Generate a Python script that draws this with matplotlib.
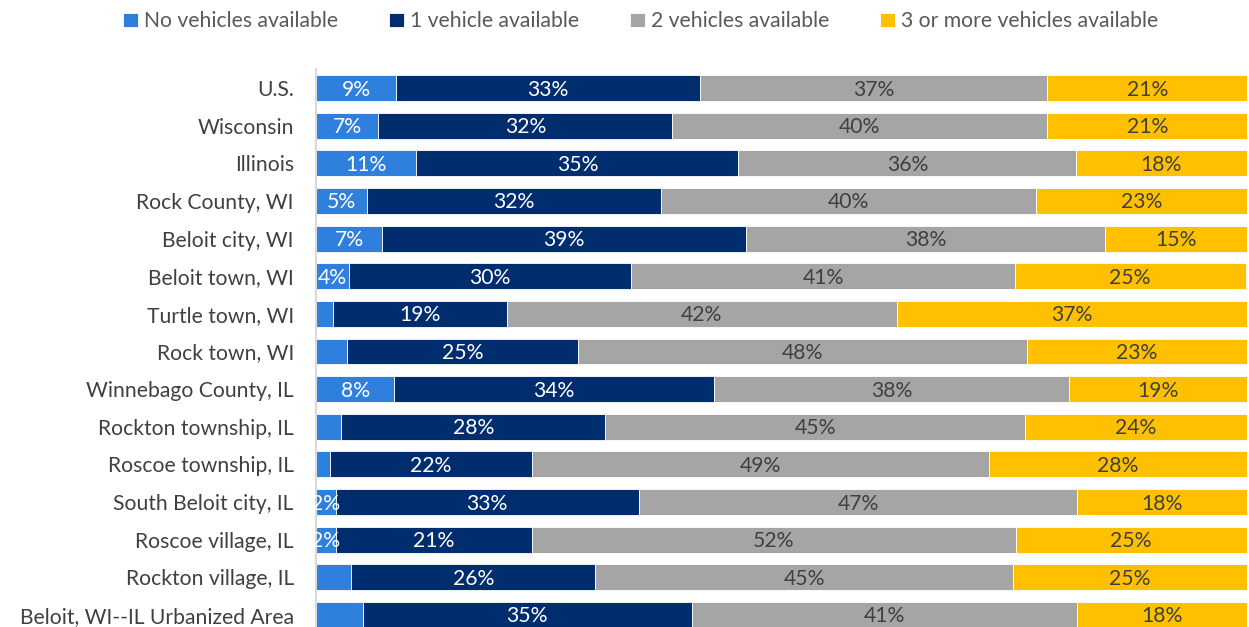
import matplotlib.pyplot as plt
import numpy as np

# places, top to bottom
places = ["U.S.", "Wisconsin", "Illinois", "Rock County, WI", "Beloit city, WI",
          "Beloit town, WI", "Turtle town, WI", "Rock town, WI", "Winnebago County, IL",
          "Rockton township, IL", "Roscoe township, IL", "South Beloit city, IL",
          "Roscoe village, IL", "Rockton village, IL", "Beloit, WI--IL Urbanized Area"]

no_veh = [8.6, 6.7, 10.8, 5.5, 7.1, 3.5, 1.8, 3.3, 8.4, 2.7, 1.5, 2.1, 2.1, 3.8, 5.0]
one_veh = [32.7, 31.6, 34.6, 31.6, 39.1, 30.4, 18.7, 24.9, 34.4, 28.4, 21.7, 32.6, 21.1, 26.2, 35.4]
two_veh = [37.3, 40.3, 36.3, 40.3, 38.6, 41.2, 41.9, 48.2, 38.1, 45.1, 49.1, 47.1, 52.0, 44.9, 41.4]
three_veh = [21.5, 21.5, 18.3, 22.7, 15.3, 24.8, 37.6, 23.6, 19.1, 23.8, 27.7, 18.2, 24.8, 25.1, 18.2]

# labels as printed on the chart ('' = no label)
no_lbl = ["9%", "7%", "11%", "5%", "7%", "4%", "", "", "8%", "", "", "2%", "2%", "", ""]
one_lbl = ["33%", "32%", "35%", "32%", "39%", "30%", "19%", "25%", "34%", "28%", "22%", "33%", "21%", "26%", "35%"]
two_lbl = ["37%", "40%", "36%", "40%", "38%", "41%", "42%", "48%", "38%", "45%", "49%", "47%", "52%", "45%", "41%"]
three_lbl = ["21%", "21%", "18%", "23%", "15%", "25%", "37%", "23%", "19%", "24%", "28%", "18%", "25%", "25%", "18%"]

series = ["No vehicles available", "1 vehicle available", "2 vehicles available",
          "3 or more vehicles available"]
colors = ["#2F7FDD", "#002D6E", "#A5A5A5", "#FFC000"]
txt_colors = ["white", "white", "#404040", "#404040"]

plt.rcParams['font.family'] = ['Lato', 'DejaVu Sans']
fs = 15.2

fig = plt.figure(figsize=(12.49, 6.27), dpi=100)
ax = fig.add_axes([0.253, 0.0, 0.745, 0.8896])

y = np.arange(len(places))
vals = [no_veh, one_veh, two_veh, three_veh]
lbls = [no_lbl, one_lbl, two_lbl, three_lbl]
left = np.zeros(len(places))
for k in range(4):
    v = np.array(vals[k])
    ax.barh(y, v, left=left, height=0.69, color=colors[k], label=series[k],
            edgecolor="white", linewidth=0.6)
    for i in range(len(places)):
        if lbls[k][i]:
            ax.text(left[i] + v[i] / 2, y[i] + 0.04, lbls[k][i], ha="center", va="center",
                    fontsize=fs, color=txt_colors[k])
    left = left + v

ax.set_xlim(0, 100)
ax.set_ylim(14.32, -0.5)
ax.set_yticks(y)
ax.set_yticklabels(places, fontsize=fs, color="#404040")
ax.set_xticks([])
ax.tick_params(axis="y", length=0, pad=16)
for s in ["top", "right", "bottom"]:
    ax.spines[s].set_visible(False)
ax.spines["left"].set_color("#D9D9D9")
ax.spines["left"].set_linewidth(1.5)

fig.legend(loc="upper center", bbox_to_anchor=(0.513, 1.012), ncol=4, frameon=False,
           fontsize=fs, handlelength=0.7, handleheight=0.7, handletextpad=0.3,
           columnspacing=2.4, labelcolor="#595959")

fig.savefig("out.png", dpi=100)
